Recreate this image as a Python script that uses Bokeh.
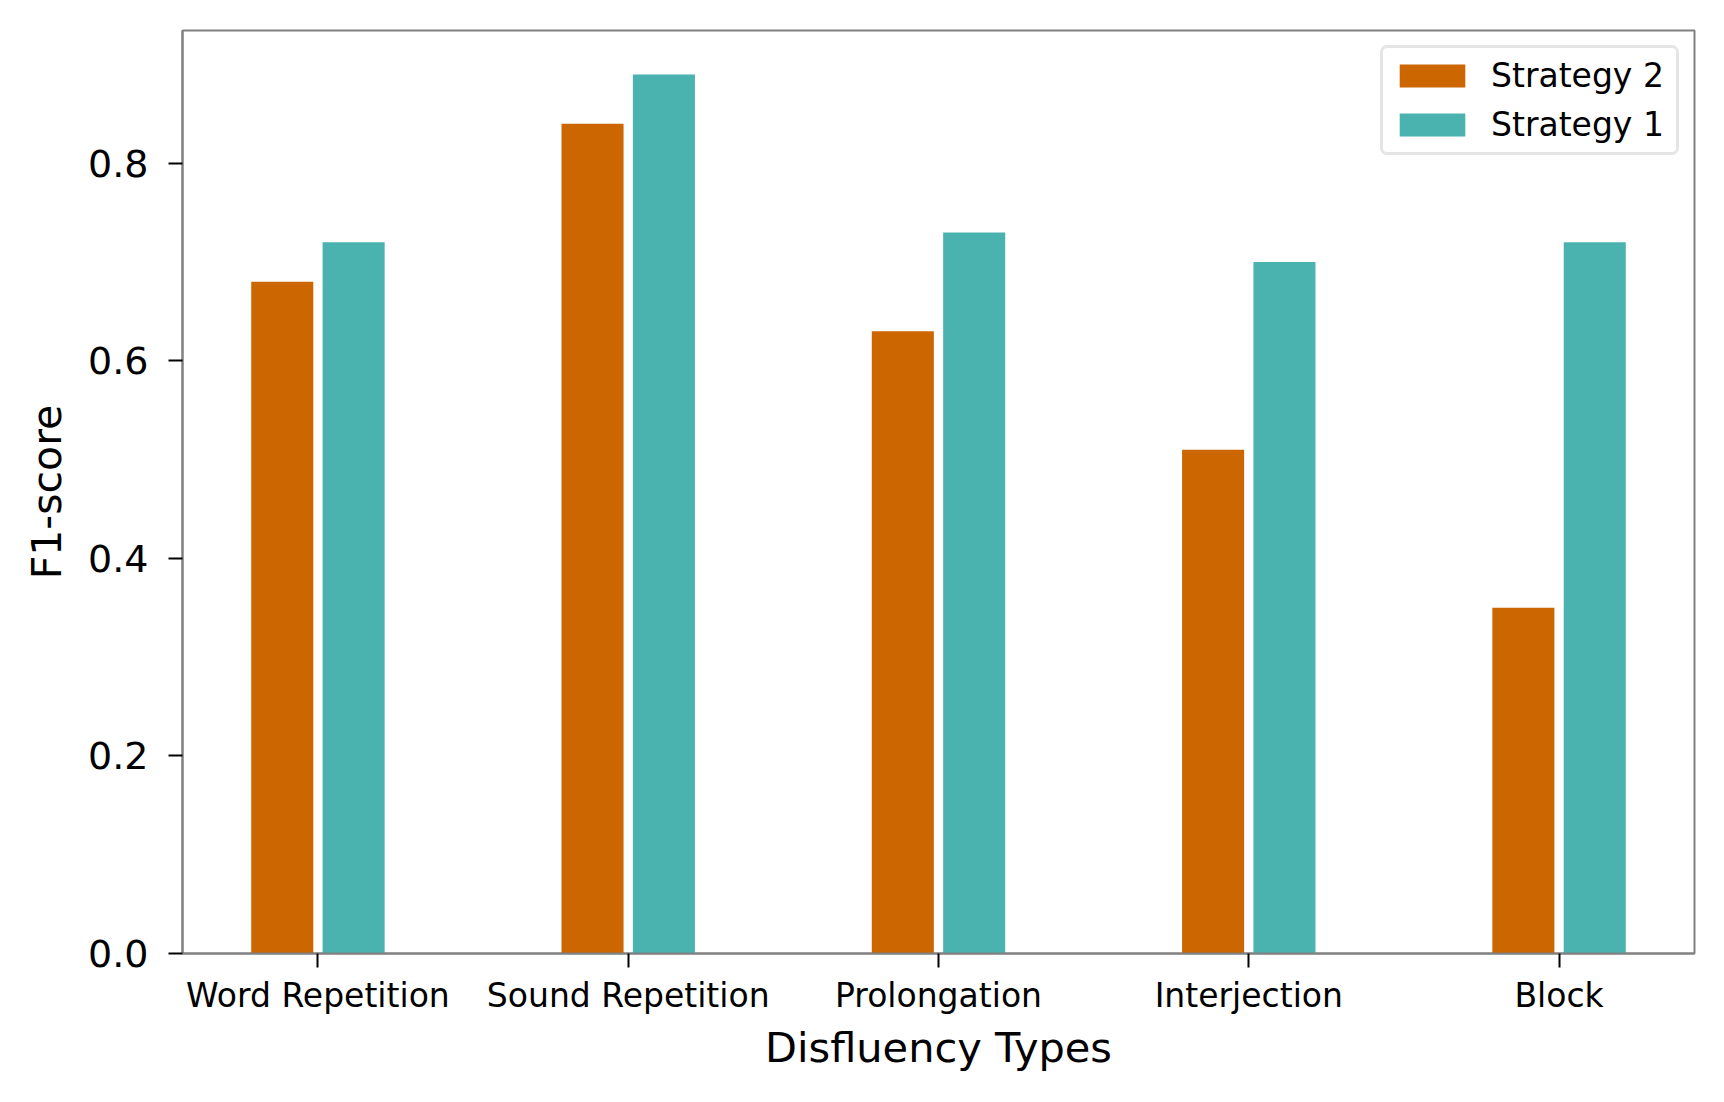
from bokeh.plotting import figure
from bokeh.models import ColumnDataSource, Range1d, FixedTicker, Legend, LegendItem, CustomJSTickFormatter
from bokeh.transform import dodge
from bokeh.embed import file_html
from bokeh.resources import INLINE

categories = ["Word Repetition", "Sound Repetition", "Prolongation", "Interjection", "Block"]
strategy2 = [0.68, 0.84, 0.63, 0.51, 0.35]
strategy1 = [0.72, 0.89, 0.73, 0.70, 0.72]
y_ticks = [0.0, 0.2, 0.4, 0.6, 0.8]

idx = list(range(len(categories)))
src = ColumnDataSource(dict(x=idx, s2=strategy2, s1=strategy1, cat=categories))

FONT = "DejaVu Sans"
ORANGE = "#cc6600"
TEAL = "#4ab3af"
SPINE = "#808080"

p = figure(width=1715, height=1093, output_backend="svg", toolbar_location=None,
           x_range=Range1d(-0.4365, 4.4365), y_range=Range1d(0, 0.9345),
           min_border_left=182, min_border_right=21, min_border_top=30, min_border_bottom=140)

r2 = p.vbar(x=dodge("x", -0.115), top="s2", bottom=0, width=0.2, source=src,
            fill_color=ORANGE, line_color=None)
r1 = p.vbar(x=dodge("x", 0.115), top="s1", bottom=0, width=0.2, source=src,
            fill_color=TEAL, line_color=None)

p.xgrid.visible = False
p.ygrid.visible = False
p.outline_line_color = SPINE
p.outline_line_width = 2
p.background_fill_color = "white"
p.border_fill_color = "white"

for ax in (p.xaxis[0], p.yaxis[0]):
    ax.axis_line_color = SPINE
    ax.axis_line_width = 2
    ax.major_tick_line_color = "black"
    ax.major_tick_line_width = 2
    ax.major_tick_out = 14
    ax.major_tick_in = 0
    ax.minor_tick_line_color = None
    ax.major_label_text_font = FONT
    ax.major_label_text_color = "black"
    ax.axis_label_text_font = FONT
    ax.axis_label_text_font_style = "normal"
    ax.axis_label_text_color = "black"

p.xaxis.ticker = FixedTicker(ticks=idx)
p.xaxis.major_label_overrides = {i: c for i, c in zip(idx, categories)}
p.xaxis.major_label_text_font_size = "33px"
p.xaxis.major_label_standoff = 8
p.xaxis.axis_label = "Disfluency Types"
p.xaxis.axis_label_text_font_size = "41.5px"
p.xaxis.axis_label_standoff = 5

p.yaxis.ticker = FixedTicker(ticks=y_ticks)
p.yaxis.formatter = CustomJSTickFormatter(code="return tick.toFixed(1);")
p.yaxis.major_label_text_font_size = "38px"
p.yaxis.major_label_standoff = 20
p.yaxis.axis_label = "F1-score"
p.yaxis.axis_label_text_font_size = "41px"
p.yaxis.axis_label_standoff = 14

legend_kw = dict(location="top_right", margin=15, padding=8, spacing=10,
                 glyph_width=82, glyph_height=29, label_standoff=18, label_width=177,
                 label_text_font=FONT, label_text_font_size="33px", label_text_color="black",
                 border_line_color="#cccccc", border_line_width=3,
                 background_fill_color="white", background_fill_alpha=0.8)
if "border_radius" in Legend.properties():
    legend_kw["border_radius"] = 7
legend = Legend(items=[LegendItem(label="Strategy 2", renderers=[r2]),
                       LegendItem(label="Strategy 1", renderers=[r1])], **legend_kw)
p.add_layout(legend)

open("out.html", "w").write(file_html(p, INLINE))
